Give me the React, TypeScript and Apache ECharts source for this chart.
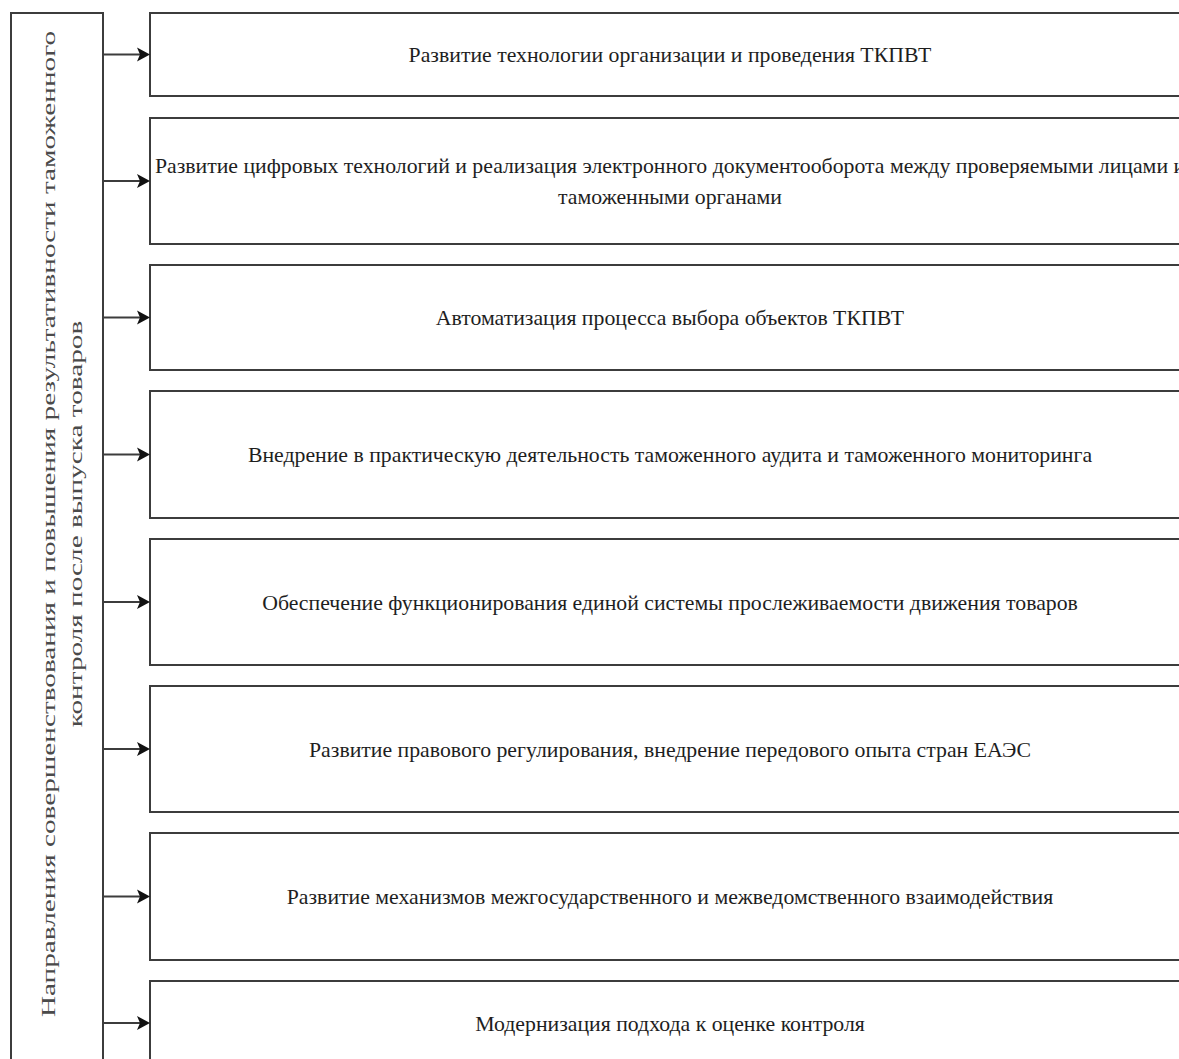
import React, { useEffect, useRef } from "react";
import * as echarts from "echarts";

// ---- Content ----
const titleLines = [
  "Направления совершенствования и повышения результативности таможенного",
  "контроля после выпуска товаров",
];

const directions = [
  "Развитие технологии организации и проведения ТКПВТ",
  "Развитие цифровых технологий и реализация электронного документооборота между проверяемыми лицами и\nтаможенными органами",
  "Автоматизация процесса выбора объектов ТКПВТ",
  "Внедрение в практическую деятельность таможенного аудита и таможенного мониторинга",
  "Обеспечение функционирования единой системы прослеживаемости движения товаров",
  "Развитие правового регулирования, внедрение передового опыта стран ЕАЭС",
  "Развитие механизмов межгосударственного и межведомственного взаимодействия",
  "Модернизация подхода к оценке контроля",
];

// ---- Layout (positions / sizes) ----
const boxTops = [13, 118, 265, 391, 539, 686, 833, 981];
const boxHeights = [83, 126, 105, 127, 126, 126, 127, 84];
const BOX_LEFT = 150;
const BOX_RIGHT = 1190;
const LEFT_X = 11;
const LEFT_RIGHT = 103;
const TOP_Y = 13;

const STROKE = "#3c3c3c";
const TEXT = "#1e1e1e";
const SERIF = "'Liberation Serif', 'DejaVu Serif', serif";

export default function App() {
  const ref = useRef<HTMLDivElement>(null);

  useEffect(() => {
    if (!ref.current) return;
    const chart = echarts.init(ref.current, undefined, { renderer: "svg" });

    const elements: any[] = [];

    // Left vertical box
    elements.push({
      type: "rect",
      shape: { x: LEFT_X, y: TOP_Y, width: LEFT_RIGHT - LEFT_X, height: 1200 },
      style: { fill: "#fff", stroke: STROKE, lineWidth: 2 },
    });

    // Left rotated title
    const titleCenterY = 524;
    const titleXs = [48, 75];
    titleLines.forEach((line, i) => {
      elements.push({
        type: "text",
        x: titleXs[i],
        y: titleCenterY,
        rotation: Math.PI / 2,
        scaleX: 1.54,
        style: {
          text: line,
          fill: "#4a4a4a",
          font: `19px ${SERIF}`,
          textAlign: "center",
          textVerticalAlign: "middle",
        },
      });
    });

    directions.forEach((label, i) => {
      const top = boxTops[i];
      const h = boxHeights[i];
      const cy = top + h / 2;
      elements.push({
        type: "rect",
        shape: { x: BOX_LEFT, y: top, width: BOX_RIGHT - BOX_LEFT, height: h },
        style: { fill: "#fff", stroke: STROKE, lineWidth: 2 },
      });
      elements.push({
        type: "text",
        x: (BOX_LEFT + BOX_RIGHT) / 2,
        y: cy,
        scaleX: 0.99,
        style: {
          text: label,
          fill: TEXT,
          font: `22px ${SERIF}`,
          lineHeight: 31,
          textAlign: "center",
          textVerticalAlign: "middle",
        },
      });
      // Arrow shaft
      elements.push({
        type: "line",
        shape: { x1: LEFT_RIGHT, y1: cy, x2: BOX_LEFT - 10, y2: cy },
        style: { stroke: STROKE, lineWidth: 2 },
      });
      // Arrow head
      elements.push({
        type: "polygon",
        shape: {
          points: [
            [BOX_LEFT - 13, cy - 7],
            [BOX_LEFT, cy],
            [BOX_LEFT - 13, cy + 7],
            [BOX_LEFT - 10, cy],
          ],
        },
        style: { fill: "#111" },
      });
    });

    chart.setOption({
      animation: false,
      backgroundColor: "#fff",
      graphic: { elements },
    });

    return () => chart.dispose();
  }, []);

  return (
    <div
      ref={ref}
      style={{ position: "fixed", left: 0, top: 0, width: 1179, height: 1059, background: "#fff" }}
    />
  );
}
